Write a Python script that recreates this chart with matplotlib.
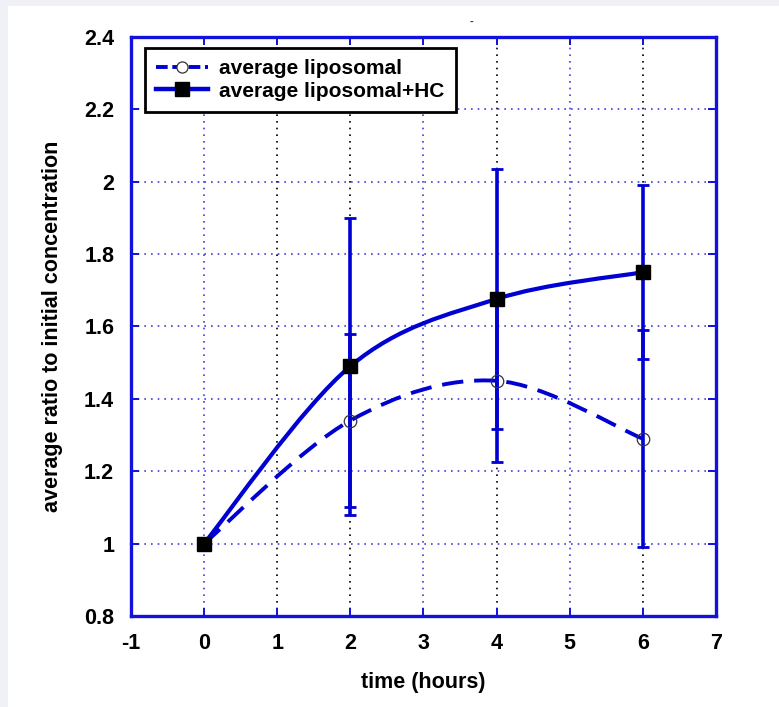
"""Ratio to initial concentration over time, liposomal vs liposomal+HC"""
import numpy as np
import matplotlib
matplotlib.use('Agg')
import matplotlib.pyplot as plt
from matplotlib.path import Path
from matplotlib.patches import PathPatch, Rectangle
from matplotlib.lines import Line2D

# data
time_h = [0, 2, 4, 6]
lipo_mean = [1.0, 1.34, 1.45, 1.29]
lipo_err = [0.0, 0.24, 0.225, 0.30]
hc_mean = [1.0, 1.49, 1.676, 1.75]
hc_err = [0.0, 0.41, 0.36, 0.24]

x_ticks = [-1, 0, 1, 2, 3, 4, 5, 6, 7]
y_ticks = [0.8, 1.0, 1.2, 1.4, 1.6, 1.8, 2.0, 2.2, 2.4]
y_labels = ['0.8', '1', '1.2', '1.4', '1.6', '1.8', '2', '2.2', '2.4']

BLUE = '#0000d2'
SPINE = '#1212dc'
# the source has a mix of blue and black vertical grid lines
vgrid_colors = {0: '#4040e0', 1: 'black', 2: 'black', 3: '#4040e0',
                4: 'black', 5: '#4040e0', 6: 'black'}

plt.rcParams['font.family'] = ['Liberation Sans', 'DejaVu Sans']
plt.rcParams['font.weight'] = 'bold'


def smooth_path(x, y):
    """Excel-like smoothed line: Catmull-Rom turned into cubic beziers"""
    pts = np.column_stack([x, y]).astype(float)
    n = len(pts)
    verts = [pts[0]]
    codes = [Path.MOVETO]
    for i in range(n - 1):
        p0 = pts[max(i - 1, 0)]
        p1 = pts[i]
        p2 = pts[i + 1]
        p3 = pts[min(i + 2, n - 1)]
        verts += [p1 + (p2 - p0) / 6, p2 - (p3 - p1) / 6, p2]
        codes += [Path.CURVE4] * 3
    return Path(verts, codes)


fig = plt.figure(figsize=(7.79, 7.07), dpi=100)
fig.patch.set_facecolor('white')
# light grey border strips on the left and top
fig.patches.append(Rectangle((0, 0), 8 / 779, 1, transform=fig.transFigure,
                             facecolor='#eff1f6', edgecolor='none', zorder=-10))
fig.patches.append(Rectangle((0, 1 - 6 / 707), 1, 6 / 707, transform=fig.transFigure,
                             facecolor='#eff1f6', edgecolor='none', zorder=-10))

ax = fig.add_axes([0.168, 0.1287, 0.751, 0.819])
ax.set_xlim(-1, 7)
ax.set_ylim(0.8, 2.4)

# grid
for yv in y_ticks[1:-1]:
    ax.axhline(yv, color='#4040e0', lw=1.2, ls=(0, (1, 3)), zorder=0)
for xv, c in vgrid_colors.items():
    ax.axvline(xv, color=c, lw=1.2, ls=(0, (1, 3)), zorder=0)

# error bars
ax.errorbar(time_h, lipo_mean, yerr=lipo_err, fmt='none', ecolor=BLUE,
            elinewidth=2.6, capsize=4, capthick=2, zorder=2)
ax.errorbar(time_h, hc_mean, yerr=hc_err, fmt='none', ecolor=BLUE,
            elinewidth=2.6, capsize=4, capthick=2, zorder=2)

# smoothed lines
ax.add_patch(PathPatch(smooth_path(time_h, lipo_mean), fill=False, edgecolor=BLUE,
                       lw=2.8, linestyle=(0, (5.5, 2.8)), capstyle='butt', zorder=3))
ax.add_patch(PathPatch(smooth_path(time_h, hc_mean), fill=False, edgecolor=BLUE,
                       lw=3.0, capstyle='round', zorder=3))

# markers
ax.plot(time_h, lipo_mean, ls='none', marker='o', ms=9, mfc='none', mec='#333333',
        mew=0.9, zorder=4)
ax.plot(time_h, hc_mean, ls='none', marker='s', ms=10, mfc='black', mec='black', zorder=5)

# axes styling
for sp in ax.spines.values():
    sp.set_color(SPINE)
    sp.set_linewidth(2.4)
ax.set_xticks(x_ticks)
ax.set_xticklabels([str(v) for v in x_ticks])
ax.set_yticks(y_ticks)
ax.set_yticklabels(y_labels)
ax.tick_params(direction='in', top=True, right=True, length=6, width=1.4,
               color=SPINE, labelsize=15.5, pad=12)
for tick, xv in zip(ax.xaxis.get_major_ticks(), x_ticks):
    c = vgrid_colors.get(xv, SPINE)
    tick.tick1line.set_color(c)
    tick.tick2line.set_color(c)

ax.set_xlabel('time (hours)', fontsize=15.5, fontweight='bold', labelpad=13)
ax.set_ylabel('average ratio to initial concentration', fontsize=15.5,
              fontweight='bold', labelpad=15)

handles = [
    Line2D([], [], color=BLUE, lw=2.8, ls=(0, (3, 1.2)), marker='o', ms=8,
           mfc='white', mec='#333333', mew=0.9),
    Line2D([], [], color=BLUE, lw=3.2, marker='s', ms=10, mfc='black', mec='black'),
]
leg = ax.legend(handles, ['average liposomal', 'average liposomal+HC'],
                loc='upper left', bbox_to_anchor=(0.024, 0.981), borderaxespad=0,
                fancybox=False, framealpha=1, edgecolor='black', fontsize=15,
                handlelength=2.5, handletextpad=0.5, labelspacing=0.15,
                borderpad=0.55)
leg.get_frame().set_linewidth(2)
leg.set_zorder(10)

# stray mark above the plot in the source image
fig.text(472 / 779, 1 - 22 / 707, '-', fontsize=8, color='#333333', ha='center', va='center')

fig.savefig('out.png', dpi=100)
